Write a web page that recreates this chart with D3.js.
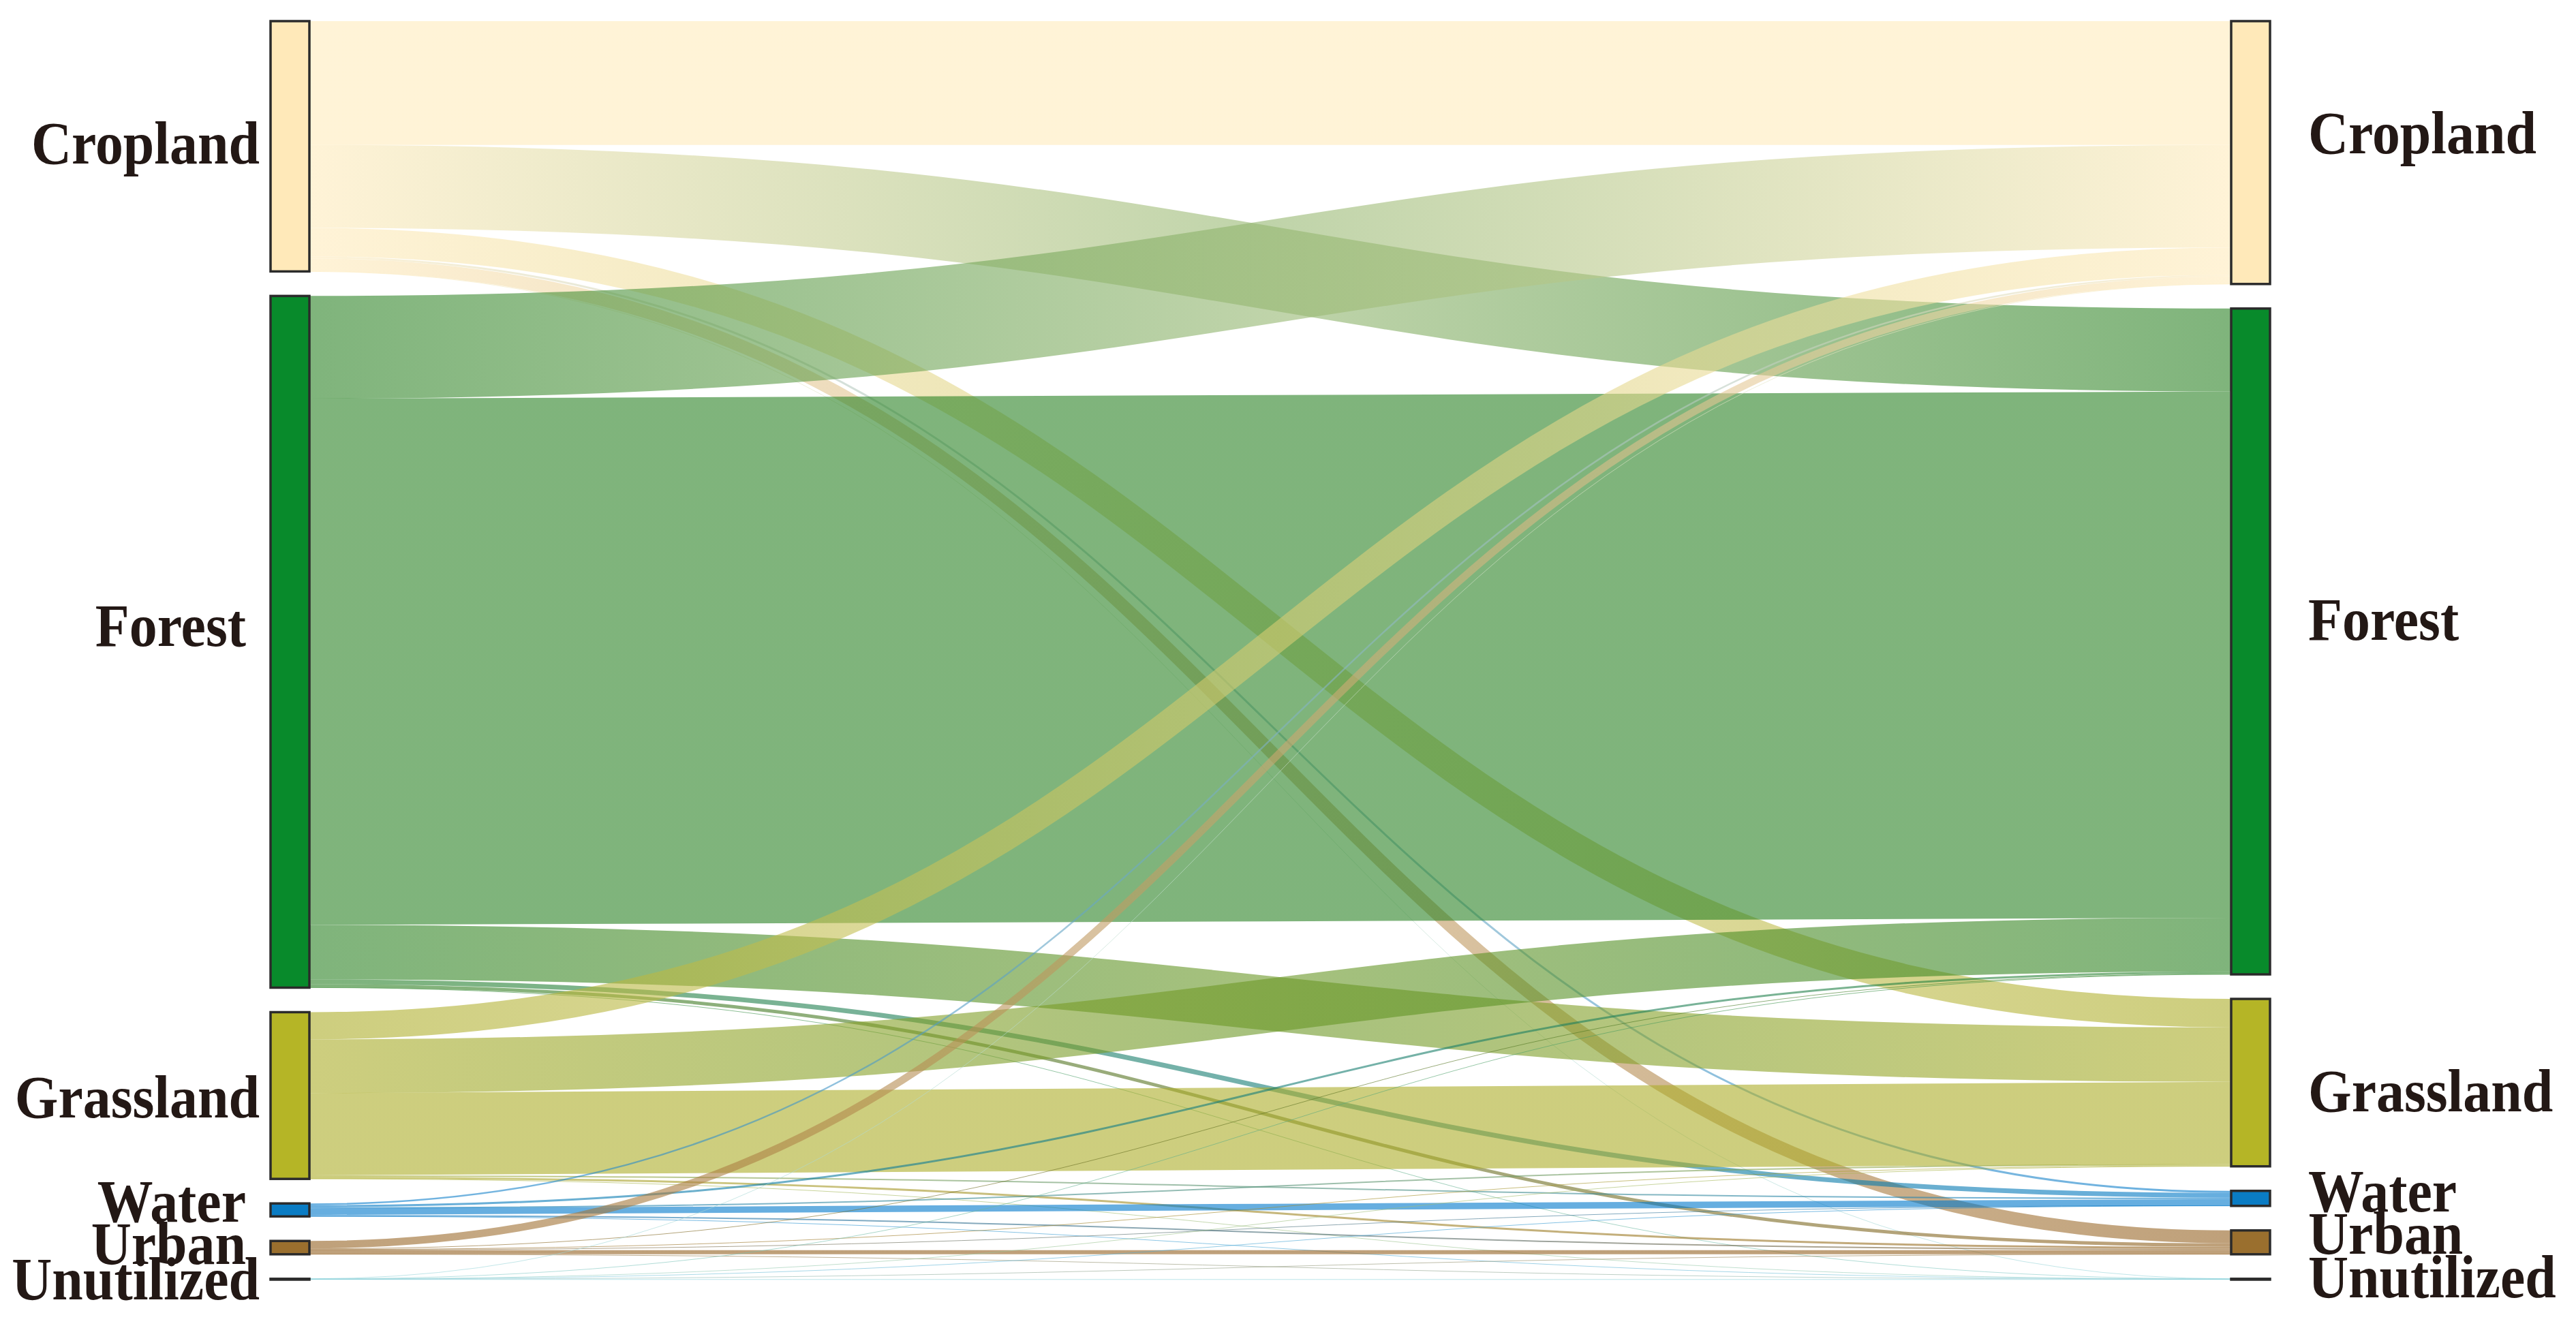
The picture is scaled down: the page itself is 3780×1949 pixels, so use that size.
<!DOCTYPE html>
<html>
<head>
<meta charset="utf-8">
<script src="https://cdn.jsdelivr.net/npm/d3@7"></script>
<style>
  body { margin: 0; background: #fff; }
  text { font-family: "Times New Roman", "Liberation Serif", serif; font-weight: bold; fill: #231815; }
</style>
</head>
<body>
<div id="chart"></div>
<script>
// land use classes, same order in both periods
var categories = ["Cropland", "Forest", "Grassland", "Water", "Urban", "Unutilized"];
var nodeColors = ["#ffe9b9", "#088a2b", "#b5b526", "#0a7cc4", "#9a6f2e", "#a8dde3"];
var linkColors = ["#ffebbc", "#2a8224", "#acad28", "#0078cb", "#946121", "#8fd3dc"];

// transfer area from each class (left) to each class (right), same order as categories
var fromCropland   = [182, 122, 42, 3, 19, 0.1];
var fromForest     = [151, 774, 80, 7, 5, 0.2];
var fromGrassland  = [40, 79, 121, 2, 3, 0.2];
var fromWater      = [2.5, 3, 2, 9.5, 2, 0.1];
var fromUrban      = [11, 1, 1, 0.5, 6, 0.1];
var fromUnutilized = [0.1, 0.2, 0.2, 0.1, 0.1, 0.5];

var flows = [fromCropland, fromForest, fromGrassland, fromWater, fromUrban, fromUnutilized];

var width = 3780,
    height = 1949,
    nodeWidth = 57,
    nodePadding = 36,
    xLeft = 397,
    xRight = 3274,
    yTop = 31,
    yBottom = 1878;

// labels were hand placed in the original, nudge them the same way
var labelShiftLeft = [-4, -23, 3, -12, -5, 1];
var labelShiftRight = [-28, -31, 13, -10, -12, -2];
var labelGapLeft = [16, 36, 16, 36, 36, 16];

var svg = d3.select("#chart").append("svg")
    .attr("width", width)
    .attr("height", height)
    .style("background", "#fff");

var total = d3.sum(flows, function(r) { return d3.sum(r); });

var y = d3.scaleLinear()
    .domain([0, total])
    .range([0, yBottom - yTop - nodePadding * (categories.length - 1)]);

// build the two columns of nodes
function makeColumn(values, x0, side) {
    var yy = yTop;
    return values.map(function(v, i) {
        var n = { name: categories[i], color: nodeColors[i], lcolor: linkColors[i], value: v, side: side,
                  idx: i, x0: x0, x1: x0 + nodeWidth, y0: yy, y1: yy + y(v) };
        yy = n.y1 + nodePadding;
        n.offset = n.y0;
        return n;
    });
}

var leftNodes = makeColumn(flows.map(function(r) { return d3.sum(r); }), xLeft, "left");
var rightNodes = makeColumn(categories.map(function(c, j) {
    return d3.sum(flows, function(r) { return r[j]; });
}), xRight, "right");

var links = [];
flows.forEach(function(row, i) {
    row.forEach(function(v, j) {
        links.push({ source: leftNodes[i], target: rightNodes[j], value: v, i: i, j: j });
    });
});

// stack links at the source in target order, at the target in source order
leftNodes.forEach(function(n, i) {
    links.filter(function(l) { return l.i === i; })
        .sort(function(a, b) { return a.j - b.j; })
        .forEach(function(l) { l.w = y(l.value); l.sy = n.offset + l.w / 2; n.offset += l.w; });
});
rightNodes.forEach(function(n, j) {
    links.filter(function(l) { return l.j === j; })
        .sort(function(a, b) { return a.i - b.i; })
        .forEach(function(l) { l.ty = n.offset + l.w / 2; n.offset += l.w; });
});

var defs = svg.append("defs");

var grad = defs.selectAll("linearGradient")
    .data(links)
    .enter().append("linearGradient")
    .attr("id", function(d, k) { return "g" + k; })
    .attr("gradientUnits", "userSpaceOnUse")
    .attr("x1", xLeft + nodeWidth)
    .attr("x2", xRight);
grad.append("stop").attr("offset", "0%").attr("stop-color", function(d) { return d.source.lcolor; });
grad.append("stop").attr("offset", "100%").attr("stop-color", function(d) { return d.target.lcolor; });

var linkPath = d3.linkHorizontal()
    .source(function(d) { return [d.source.x1, d.sy]; })
    .target(function(d) { return [d.target.x0, d.ty]; });

svg.append("g")
    .attr("fill", "none")
    .selectAll("path")
    .data(links)
    .enter().append("path")
    .attr("d", linkPath)
    .attr("stroke", function(d, k) { return "url(#g" + k + ")"; })
    .attr("stroke-opacity", 0.6)
    .attr("stroke-width", function(d) { return Math.max(1, d.w); });

var nodes = leftNodes.concat(rightNodes);

svg.append("g")
    .selectAll("rect")
    .data(nodes)
    .enter().append("rect")
    .attr("x", function(d) { return d.x0; })
    .attr("y", function(d) { return d.y0; })
    .attr("width", nodeWidth)
    .attr("height", function(d) { return Math.max(0.5, d.y1 - d.y0); })
    .attr("fill", function(d) { return d.color; })
    .attr("stroke", "#2b2b2b")
    .attr("stroke-width", 3.5);

svg.append("g")
    .selectAll("text")
    .data(nodes)
    .enter().append("text")
    .attr("transform", function(d) {
        var left = d.side === "left";
        var x = left ? d.x0 - labelGapLeft[d.idx] : d.x1 + 56;
        var shift = left ? labelShiftLeft[d.idx] : labelShiftRight[d.idx];
        var yc = (d.y0 + d.y1) / 2 + 29 + shift;
        return "translate(" + x + "," + yc + ") scale(0.93,1)";
    })
    .attr("text-anchor", function(d) { return d.side === "left" ? "end" : "start"; })
    .style("font-size", "88px")
    .text(function(d) { return d.name; });
</script>
</body>
</html>
